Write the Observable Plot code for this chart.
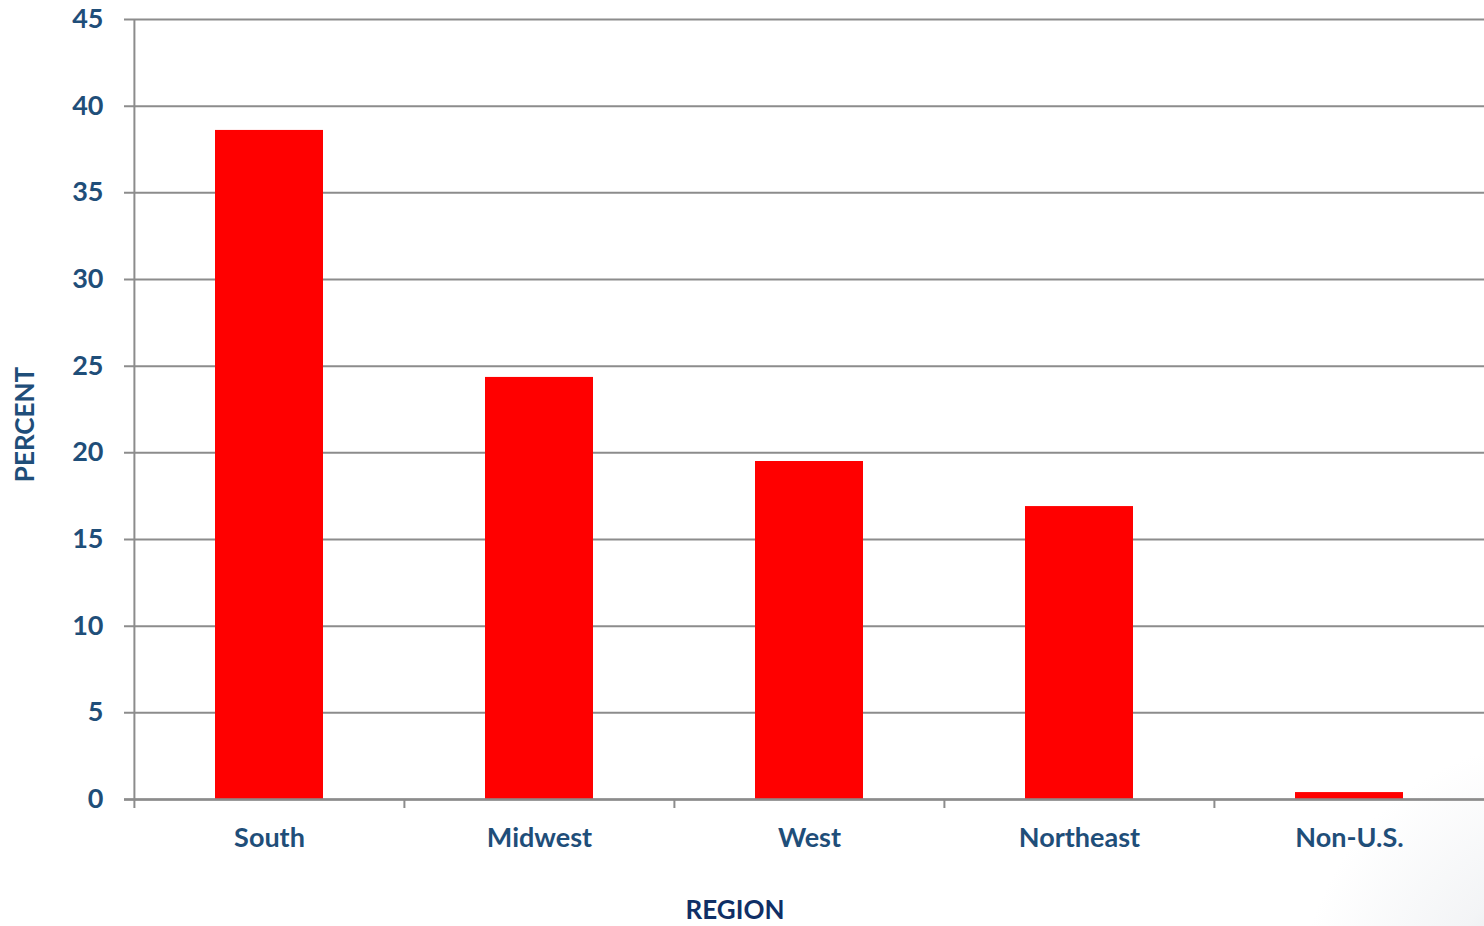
<!DOCTYPE html>
<html>
<head>
<meta charset="utf-8">
<script src="https://cdn.jsdelivr.net/npm/d3@7"></script>
<script src="https://cdn.jsdelivr.net/npm/@observablehq/plot@0.6"></script>
<style>
  html, body { margin: 0; padding: 0; }
  body { background: radial-gradient(circle at 1560px 1000px, rgba(215,218,222,0.9) 0px, rgba(235,237,240,0.6) 120px, rgba(255,255,255,0) 260px), #fff; width: 1484px; height: 926px; overflow: hidden; }
  #chart svg { display: block; }
</style>
</head>
<body>
<div id="chart"></div>
<script>
const regions = ["South", "Midwest", "West", "Northeast", "Non-U.S."];
const percents = [38.6, 24.35, 19.5, 16.9, 0.4];
const yTicks = [0, 5, 10, 15, 20, 25, 30, 35, 40, 45];
const xTitle = "REGION";
const yTitle = "PERCENT";

const data = regions.map((r, i) => ({region: r, value: percents[i]}));
const textColor = "#1f4e79";
const gridColor = "#8c8c8c";
const W = 1484, ML = 133, MR = 0;
const step = (W - ML - MR) / regions.length;
const FS = 27;

const chart = Plot.plot({
  width: W,
  height: 926,
  marginLeft: ML,
  marginRight: MR,
  marginTop: 19,
  marginBottom: 127,
  style: {fontFamily: "Lato, 'Open Sans', sans-serif", fontWeight: "bold", color: textColor, background: "transparent"},
  x: {domain: regions, paddingInner: 0.6, paddingOuter: 0.3, label: null},
  y: {domain: [0, 45], label: null},
  marks: [
    Plot.ruleY(yTicks, {stroke: gridColor, strokeWidth: 2, strokeOpacity: 1, insetLeft: -9}),
    Plot.ruleX([regions[0]], {x: d => d, dx: -step / 2, y1: 0, y2: 45, stroke: gridColor, strokeWidth: 2}),
    Plot.barY(data, {x: "region", y: "value", fill: "#ff0000"}),
    Plot.ruleY([0], {stroke: gridColor, strokeWidth: 2.5, insetLeft: -9}),
    Plot.ruleX(regions, {x: d => d, y1: 0, y2: 0, dx: -step / 2, insetBottom: -9, stroke: gridColor, strokeWidth: 2}),
    Plot.axisY({ticks: yTicks, tickSize: 0, tickPadding: 30, fontSize: FS, fontWeight: "bold", fill: textColor}),
    Plot.axisX({tickSize: 0, tickPadding: 28, fontSize: FS, fontWeight: "bold", fill: textColor}),
    Plot.text([xTitle], {frameAnchor: "bottom", lineAnchor: "middle", textAnchor: "middle", dy: 111, dx: -74, fontSize: 26, fontWeight: "bold", fill: "#0f2f66", text: d => d}),
    Plot.text([yTitle], {frameAnchor: "left", lineAnchor: "middle", textAnchor: "middle", dx: -108, dy: 15, rotate: -90, fontSize: 26, fontWeight: "bold", fill: textColor, text: d => d})
  ]
});
document.getElementById("chart").appendChild(chart);
</script>
</body>
</html>
